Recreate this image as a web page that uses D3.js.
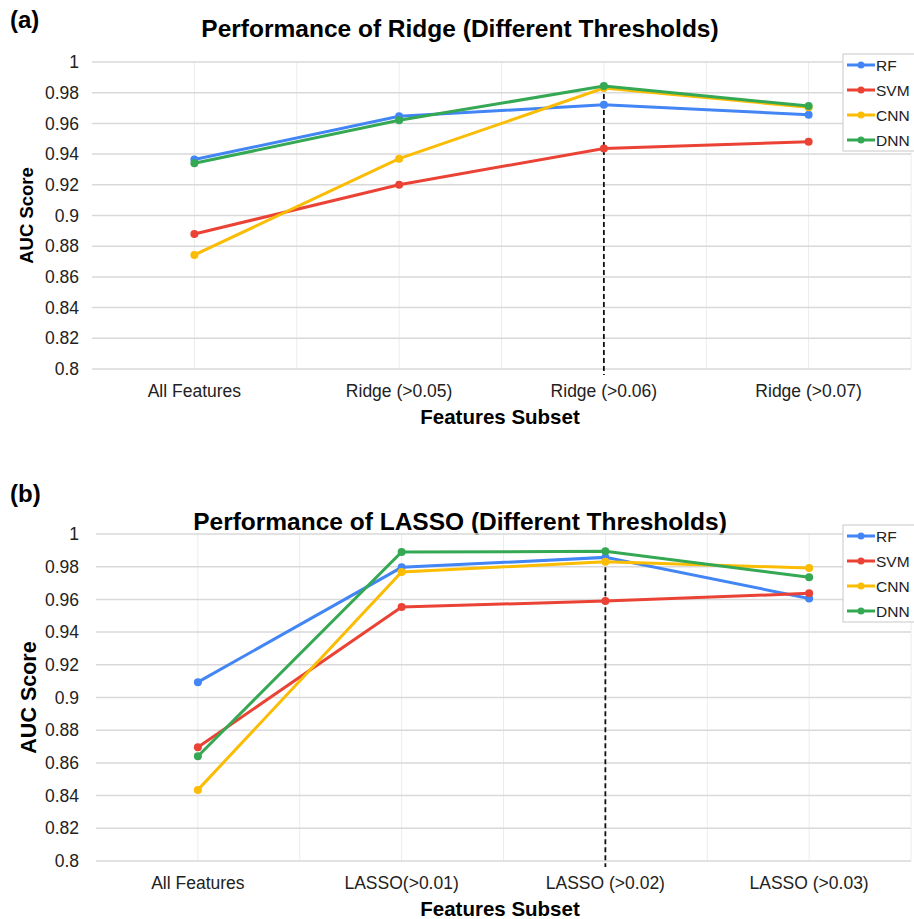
<!DOCTYPE html>
<html>
<head>
<meta charset="utf-8">
<script src="https://cdn.jsdelivr.net/npm/d3@7"></script>
<style>
  body { margin: 0; background: #fff; }
  svg { font-family: "Liberation Sans", Arial, sans-serif; }
</style>
</head>
<body>
<div id="chart"></div>
<script>
const W = 914, H = 919

const models = ["RF", "SVM", "CNN", "DNN"]
const colors = ["#4285F4", "#EA4335", "#FBBC04", "#34A853"]
const yTicks = [0.8, 0.82, 0.84, 0.86, 0.88, 0.9, 0.92, 0.94, 0.96, 0.98, 1]

// (a) Ridge
const ridgeCats = ["All Features", "Ridge (>0.05)", "Ridge (>0.06)", "Ridge (>0.07)"]
const ridgeRF  = [0.9365, 0.9646, 0.9722, 0.9657]
const ridgeSVM = [0.888, 0.920, 0.9437, 0.948]
const ridgeCNN = [0.8743, 0.937, 0.983, 0.9705]
const ridgeDNN = [0.934, 0.962, 0.9843, 0.9713]

// (b) LASSO
const lassoCats = ["All Features", "LASSO(>0.01)", "LASSO (>0.02)", "LASSO (>0.03)"]
const lassoRF  = [0.9094, 0.9796, 0.9857, 0.9606]
const lassoSVM = [0.8696, 0.9553, 0.959, 0.9637]
const lassoCNN = [0.8435, 0.9768, 0.983, 0.9792]
const lassoDNN = [0.8641, 0.989, 0.9894, 0.9735]

const svg = d3.select("#chart").append("svg")
  .attr("width", W).attr("height", H)

function panel(opt) {
  const g = svg.append("g")
  const x = d3.scaleBand().domain(opt.cats).range([opt.left, opt.right]).padding(0)
  const y = d3.scaleLinear().domain([0.8, 1]).range([opt.bottom, opt.top])
  const cx = d => x(d) + x.bandwidth() / 2

  // panel letter + title
  g.append("text").attr("x", 10).attr("y", opt.letterY)
    .attr("font-size", 24).attr("font-weight", "bold").text(opt.letter)
  g.append("text").attr("x", 460).attr("y", opt.titleY)
    .attr("text-anchor", "middle").attr("font-size", 24.5).attr("font-weight", "bold")
    .text(opt.title)

  // vertical grid: band edges and centers
  const vx = []
  opt.cats.forEach((c, i) => { if (i > 0) vx.push(x(c)); vx.push(cx(c)) })
  vx.push(opt.right)
  g.selectAll(".vgrid").data(vx).enter().append("line")
    .attr("x1", d => d).attr("x2", d => d)
    .attr("y1", opt.top).attr("y2", opt.bottom)
    .attr("stroke", "#ececec").attr("stroke-width", 1)

  // horizontal grid
  g.selectAll(".hgrid").data(yTicks).enter().append("line")
    .attr("x1", opt.left).attr("x2", opt.right)
    .attr("y1", d => y(d)).attr("y2", d => y(d))
    .attr("stroke", "#d9d9d9").attr("stroke-width", 1.5)

  // y tick labels
  g.selectAll(".ytick").data(yTicks).enter().append("text")
    .attr("x", 79).attr("y", d => y(d)).attr("dy", "0.35em")
    .attr("text-anchor", "end").attr("font-size", 17.5).attr("fill", "#222")
    .text(d => d3.format("")(+d.toFixed(2)))

  // x tick labels
  g.selectAll(".xtick").data(opt.cats).enter().append("text")
    .attr("x", cx).attr("y", opt.bottom + 28)
    .attr("text-anchor", "middle").attr("font-size", 17.5).attr("fill", "#222")
    .text(d => d)

  // axis titles
  g.append("text").attr("x", 500).attr("y", opt.bottom + 55)
    .attr("text-anchor", "middle").attr("font-size", 20.5).attr("font-weight", "bold")
    .text("Features Subset")
  g.append("text")
    .attr("transform", `translate(${opt.yTitleX}, ${(opt.top + opt.bottom) / 2}) rotate(-90)`)
    .attr("text-anchor", "middle").attr("font-size", opt.yTitleSize).attr("font-weight", "bold")
    .text("AUC Score")

  // dashed marker at the chosen threshold
  const best = opt.cats[2]
  g.append("line")
    .attr("x1", cx(best)).attr("x2", cx(best))
    .attr("y1", y(d3.max(opt.series, s => s[2]))).attr("y2", opt.bottom + 6)
    .attr("stroke", "#111").attr("stroke-width", 1.8).attr("stroke-dasharray", "5,3")

  // lines and points
  const line = d3.line().x((d, i) => cx(opt.cats[i])).y(d => y(d))
  opt.series.forEach((s, k) => {
    g.append("path").datum(s)
      .attr("d", line).attr("fill", "none")
      .attr("stroke", colors[k]).attr("stroke-width", 3)
    g.selectAll(".pt" + k).data(s).enter().append("circle")
      .attr("cx", (d, i) => cx(opt.cats[i])).attr("cy", d => y(d))
      .attr("r", 4).attr("fill", colors[k])
  })

  // legend
  const lg = g.append("g").attr("transform", `translate(843, ${opt.legendY})`)
  lg.append("rect").attr("width", 80).attr("height", 97)
    .attr("fill", "#fff").attr("stroke", "#c8c8c8").attr("stroke-width", 1)
  models.forEach((m, k) => {
    const yy = 11 + k * 25
    lg.append("line").attr("x1", 4).attr("x2", 32).attr("y1", yy).attr("y2", yy)
      .attr("stroke", colors[k]).attr("stroke-width", 3)
    lg.append("circle").attr("cx", 18).attr("cy", yy).attr("r", 3.5).attr("fill", colors[k])
    lg.append("text").attr("x", 33).attr("y", yy).attr("dy", "0.36em")
      .attr("font-size", 15.5).attr("fill", "#222").text(m)
  })
}

panel({
  cats: ridgeCats, series: [ridgeRF, ridgeSVM, ridgeCNN, ridgeDNN],
  left: 92, right: 911, top: 62, bottom: 369,
  letter: "(a)", letterY: 28, title: "Performance of Ridge (Different Thresholds)", titleY: 37,
  yTitleX: 33, yTitleSize: 18.5, legendY: 54
})

panel({
  cats: lassoCats, series: [lassoRF, lassoSVM, lassoCNN, lassoDNN],
  left: 96, right: 911, top: 534, bottom: 861,
  letter: "(b)", letterY: 502, title: "Performance of LASSO (Different Thresholds)", titleY: 530,
  yTitleX: 36, yTitleSize: 21.5, legendY: 525
})
</script>
</body>
</html>
